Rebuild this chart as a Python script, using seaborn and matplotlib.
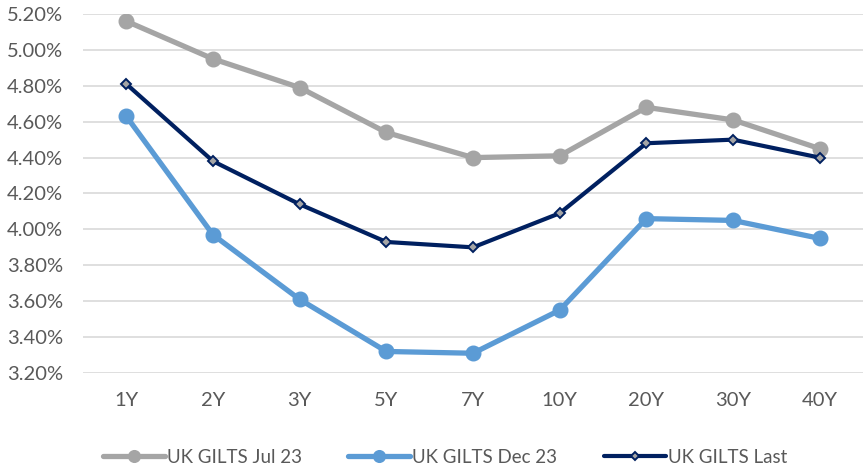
import matplotlib
matplotlib.use("Agg")
import matplotlib.pyplot as plt
import seaborn as sns
import pandas as pd
from matplotlib.ticker import FuncFormatter

tenors = ["1Y", "2Y", "3Y", "5Y", "7Y", "10Y", "20Y", "30Y", "40Y"]
jul23 = [5.16, 4.95, 4.79, 4.54, 4.40, 4.41, 4.68, 4.61, 4.45]
dec23 = [4.63, 3.97, 3.61, 3.32, 3.31, 3.55, 4.06, 4.05, 3.95]
last = [4.81, 4.38, 4.14, 3.93, 3.90, 4.09, 4.48, 4.50, 4.40]
series_names = ["UK GILTS Jul 23", "UK GILTS Dec 23", "UK GILTS Last"]

sns.set_theme(style="white")
plt.rcParams["font.family"] = ["Lato", "DejaVu Sans"]

fig = plt.figure(figsize=(8.63, 4.70), dpi=100)
ax = fig.add_axes([83/863, 1 - 373/470, 1 - 83/863, (373 - 14)/470])

x = list(range(len(tenors)))
df = pd.DataFrame({"x": x * 3,
                   "y": jul23 + dec23 + last,
                   "s": [series_names[0]] * 9 + [series_names[1]] * 9 + [series_names[2]] * 9})

styles = {
    series_names[0]: dict(color="#A5A5A5", lw=3.8, marker="o", ms=10.5, mfc="#A5A5A5", mec="#A5A5A5", mew=1),
    series_names[1]: dict(color="#5B9BD5", lw=3.8, marker="o", ms=10.5, mfc="#5B9BD5", mec="#5B9BD5", mew=1),
    series_names[2]: dict(color="#002060", lw=3.0, marker="D", ms=5.5, mfc="#A5A5A5", mec="#002060", mew=1.4),
}
for name in series_names:
    st = styles[name]
    sns.lineplot(data=df[df.s == name], x="x", y="y", ax=ax, color=st["color"], linewidth=st["lw"],
                 marker=st["marker"], markersize=st["ms"], markerfacecolor=st["mfc"],
                 markeredgecolor=st["mec"], markeredgewidth=st["mew"], label=name, sort=False)

ax.set_xlim(-0.5, len(tenors) - 0.5)
ax.set_ylim(3.20, 5.20)
ax.set_yticks([3.2 + 0.2 * i for i in range(11)])
ax.yaxis.set_major_formatter(FuncFormatter(lambda v, p: f"{v:.2f}%"))
ax.set_xticks(x)
ax.set_xticklabels(tenors)
ax.grid(axis="y", color="#D9D9D9", linewidth=1.2)
ax.set_axisbelow(True)
for s in ax.spines.values():
    s.set_visible(False)
ax.set_xlabel("")
ax.set_ylabel("")
ax.tick_params(axis="both", colors="#595959", length=0)
ax.tick_params(axis="x", pad=14, labelsize=14.5)
ax.tick_params(axis="y", pad=14.5, labelsize=14.5)

ax.legend(loc="center", bbox_to_anchor=(0.464, -0.234), ncol=3, frameon=False,
          fontsize=13.5, labelcolor="#595959", handlelength=3.3, handletextpad=0.1,
          columnspacing=2.5, markerscale=0.8)

fig.savefig("out.png", dpi=100)
